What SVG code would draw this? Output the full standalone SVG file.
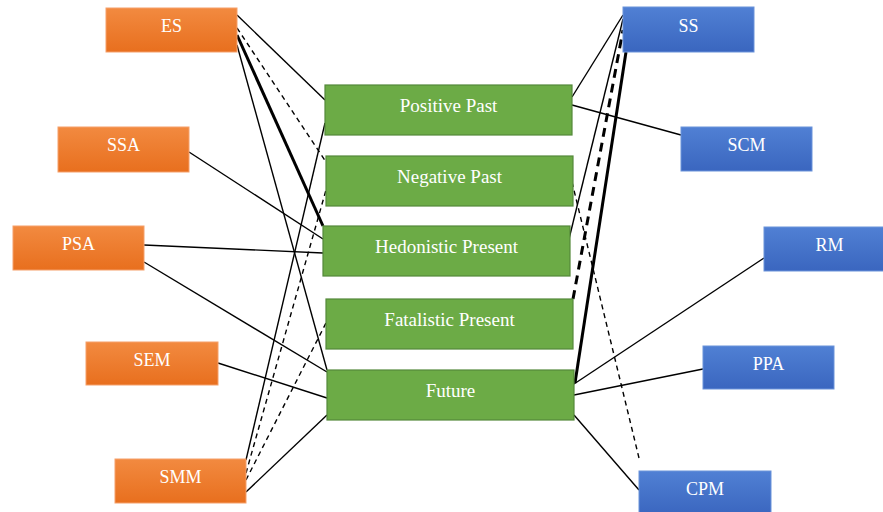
<svg xmlns="http://www.w3.org/2000/svg" width="883" height="512" viewBox="0 0 883 512">
  <defs>
    <linearGradient id="gO" x1="0" y1="0" x2="0" y2="1">
      <stop offset="0" stop-color="#F28A40"/>
      <stop offset="1" stop-color="#E86F1E"/>
    </linearGradient>
    <linearGradient id="gB" x1="0" y1="0" x2="0" y2="1">
      <stop offset="0" stop-color="#5080D4"/>
      <stop offset="1" stop-color="#3A66BF"/>
    </linearGradient>
    <style>
      .o { fill: url(#gO); stroke: #F5A06A; stroke-width: 1; }
      .b { fill: url(#gB); stroke: #6B93DA; stroke-width: 1; }
      .g { fill: #6CAB46; stroke: #54893A; stroke-width: 1.2; }
      .t { font-family: "Liberation Serif", "Times New Roman", serif; font-size: 18px; fill: #FFFFFF; text-anchor: middle; }
      .tg { font-family: "Liberation Serif", "Times New Roman", serif; font-size: 19px; fill: #FFFFFF; text-anchor: middle; }
      .c { stroke: #000; stroke-width: 1.4; fill: none; }
      .ck { stroke: #000; stroke-width: 3; fill: none; }
      .cd { stroke: #000; stroke-width: 1.4; fill: none; stroke-dasharray: 5 4; }
      .ckd { stroke: #000; stroke-width: 3; fill: none; stroke-dasharray: 9 6; }
    </style>
  </defs>
  <rect width="883" height="512" fill="#FFFFFF"/>

  <g id="connectors">
    <line class="c" x1="237" y1="15" x2="325" y2="100"/>
    <line class="cd" x1="237" y1="28" x2="326" y2="162"/>
    <line class="ck" x1="237" y1="35" x2="323" y2="226"/>
    <line class="c" x1="237" y1="45" x2="327" y2="370"/>
    <line class="c" x1="189" y1="152" x2="323" y2="239"/>
    <line class="c" x1="144" y1="245" x2="323" y2="253"/>
    <line class="c" x1="144" y1="262" x2="327" y2="372"/>
    <line class="c" x1="218" y1="363" x2="327" y2="398"/>
    <line class="c" x1="246" y1="460" x2="325" y2="123"/>
    <line class="cd" x1="246" y1="473" x2="326" y2="190"/>
    <line class="cd" x1="246" y1="480" x2="326" y2="323"/>
    <line class="c" x1="246" y1="492" x2="327" y2="415"/>

    <line class="c" x1="572" y1="97" x2="623" y2="15"/>
    <line class="c" x1="572" y1="105" x2="681" y2="135"/>
    <line class="c" x1="568" y1="243" x2="623" y2="19"/>
    <line class="ckd" x1="573" y1="299" x2="623" y2="30"/>
    <line class="ck" x1="575" y1="383" x2="626" y2="52"/>
    <line class="cd" x1="572" y1="182" x2="639" y2="458"/>
    <line class="c" x1="574" y1="384" x2="764" y2="258"/>
    <line class="c" x1="574" y1="395" x2="703" y2="369"/>
    <line class="c" x1="574" y1="415" x2="639" y2="490"/>
  </g>

  <g id="ES"><rect class="o" x="106" y="8" width="131" height="44"/><text class="t" x="171.5" y="32">ES</text></g>
  <g id="SSA"><rect class="o" x="58" y="127" width="131" height="45"/><text class="t" x="123.5" y="151">SSA</text></g>
  <g id="PSA"><rect class="o" x="13" y="226" width="131" height="44"/><text class="t" x="78.5" y="250">PSA</text></g>
  <g id="SEM"><rect class="o" x="86" y="342" width="132" height="43"/><text class="t" x="152" y="366">SEM</text></g>
  <g id="SMM"><rect class="o" x="115" y="459" width="131" height="44"/><text class="t" x="180.5" y="483">SMM</text></g>

  <g id="SS"><rect class="b" x="623" y="7" width="131" height="45"/><text class="t" x="688.5" y="32">SS</text></g>
  <g id="SCM"><rect class="b" x="681" y="127" width="131" height="44"/><text class="t" x="746.5" y="151">SCM</text></g>
  <g id="RM"><rect class="b" x="764" y="227" width="131" height="44"/><text class="t" x="829.5" y="251">RM</text></g>
  <g id="PPA"><rect class="b" x="703" y="346" width="131" height="43"/><text class="t" x="768.5" y="370">PPA</text></g>
  <g id="CPM"><rect class="b" x="639" y="471" width="132" height="44"/><text class="t" x="705" y="495">CPM</text></g>

  <g id="PositivePast"><rect class="g" x="325" y="85" width="247" height="50"/><text class="tg" x="448.5" y="112">Positive Past</text></g>
  <g id="NegativePast"><rect class="g" x="326" y="156" width="247" height="50"/><text class="tg" x="449.5" y="183">Negative Past</text></g>
  <g id="HedonisticPresent"><rect class="g" x="323" y="226" width="247" height="50"/><text class="tg" x="446.5" y="253">Hedonistic Present</text></g>
  <g id="FatalisticPresent"><rect class="g" x="326" y="299" width="247" height="50"/><text class="tg" x="449.5" y="326">Fatalistic Present</text></g>
  <g id="Future"><rect class="g" x="327" y="370" width="247" height="50"/><text class="tg" x="450.5" y="397">Future</text></g>
</svg>
